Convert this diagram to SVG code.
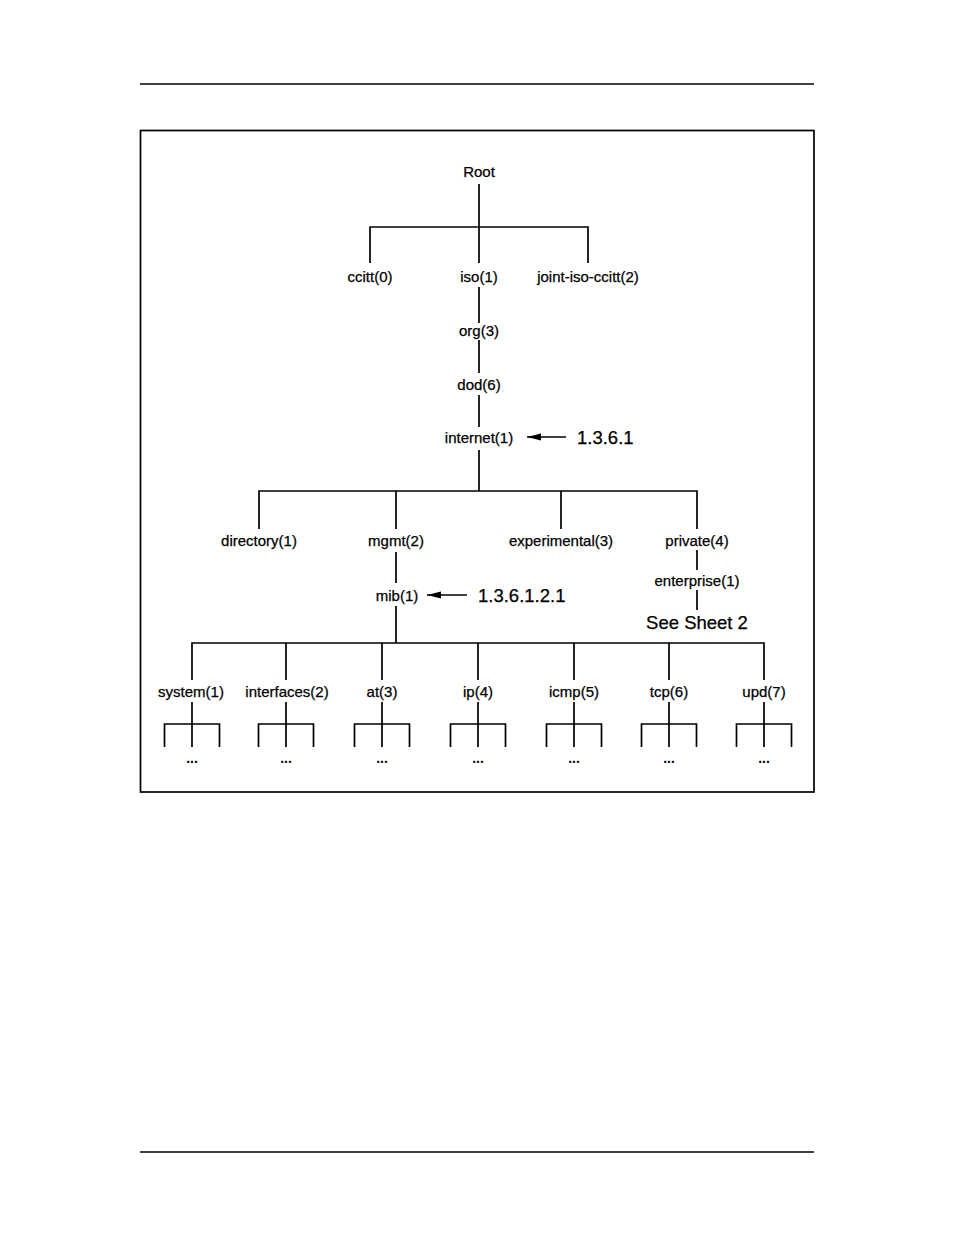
<svg xmlns="http://www.w3.org/2000/svg" width="954" height="1235" viewBox="0 0 954 1235">
<style>
.ln{stroke:#000;stroke-width:1.7;fill:none}
.lb{font-family:"Liberation Sans",Arial,sans-serif;font-size:15px;fill:#000;stroke:#000;stroke-width:0.25;text-anchor:middle}
.big{font-family:"Liberation Sans",Arial,sans-serif;font-size:18.5px;fill:#000;stroke:#000;stroke-width:0.25}
.dots{font-family:"Liberation Sans",Arial,sans-serif;font-size:14px;font-weight:bold;fill:#000;text-anchor:middle}
</style>
<defs>
<marker id="ah" markerWidth="16" markerHeight="10" refX="14" refY="5" orient="auto" markerUnits="userSpaceOnUse">
<path d="M0,1.5 L14,5 L0,8.5 Z" fill="#000"/>
</marker>
</defs>
<rect width="954" height="1235" fill="#fff"/>
<g id="page">
<line class="ln" x1="140" y1="84" x2="814" y2="84"/>
<line class="ln" x1="140" y1="1152" x2="814" y2="1152"/>
<rect class="ln" x="140.5" y="130.5" width="673.5" height="661.5"/>
</g>
<g id="connectors">
<path class="ln" d="M479,184 V263 M370,263 V227 H588 V263"/>
<path class="ln" d="M479,287 V323 M479,340 V373 M479,395 V427 M479,450 V491"/>
<path class="ln" d="M259,529 V491 H697 V529 M396,491 V529 M561,491 V529"/>
<path class="ln" d="M396,552 V583 M396,606 V643 M697,550 V570 M697,590 V610"/>
<path class="ln" d="M192,680 V643 H764 V680 M286,643 V680 M382,643 V680 M478,643 V680 M574,643 V680 M669,643 V680"/>
<path class="ln" d="M192,702 V747 M164.5,747 V724 H219.5 V747"/>
<path class="ln" d="M286,702 V747 M258.5,747 V724 H313.5 V747"/>
<path class="ln" d="M382,702 V747 M354.5,747 V724 H409.5 V747"/>
<path class="ln" d="M478,702 V747 M450.5,747 V724 H505.5 V747"/>
<path class="ln" d="M574,702 V747 M546.5,747 V724 H601.5 V747"/>
<path class="ln" d="M669,702 V747 M641.5,747 V724 H696.5 V747"/>
<path class="ln" d="M764,702 V747 M736.5,747 V724 H791.5 V747"/>
<line class="ln" x1="566" y1="437" x2="527" y2="437" marker-end="url(#ah)"/>
<line class="ln" x1="467" y1="595" x2="427" y2="595" marker-end="url(#ah)"/>
</g>
<g id="n-root"><text class="lb" x="479" y="177">Root</text></g>
<g id="n-ccitt"><text class="lb" x="370" y="282">ccitt(0)</text></g>
<g id="n-iso"><text class="lb" x="479" y="282">iso(1)</text></g>
<g id="n-joint"><text class="lb" x="588" y="282">joint-iso-ccitt(2)</text></g>
<g id="n-org"><text class="lb" x="479" y="336">org(3)</text></g>
<g id="n-dod"><text class="lb" x="479" y="390">dod(6)</text></g>
<g id="n-internet"><text class="lb" x="479" y="443">internet(1)</text></g>
<g id="n-oid1"><text class="big" x="577" y="444">1.3.6.1</text></g>
<g id="n-directory"><text class="lb" x="259" y="546">directory(1)</text></g>
<g id="n-mgmt"><text class="lb" x="396" y="546">mgmt(2)</text></g>
<g id="n-experimental"><text class="lb" x="561" y="546">experimental(3)</text></g>
<g id="n-private"><text class="lb" x="697" y="546">private(4)</text></g>
<g id="n-mib"><text class="lb" x="397" y="601">mib(1)</text></g>
<g id="n-oid2"><text class="big" x="478" y="602">1.3.6.1.2.1</text></g>
<g id="n-enterprise"><text class="lb" x="697" y="586">enterprise(1)</text></g>
<g id="n-sheet"><text class="big" x="697" y="629" text-anchor="middle">See Sheet 2</text></g>
<g id="n-system"><text class="lb" x="191" y="697">system(1)</text><text class="dots" x="192" y="763">...</text></g>
<g id="n-interfaces"><text class="lb" x="287" y="697">interfaces(2)</text><text class="dots" x="286" y="763">...</text></g>
<g id="n-at"><text class="lb" x="382" y="697">at(3)</text><text class="dots" x="382" y="763">...</text></g>
<g id="n-ip"><text class="lb" x="478" y="697">ip(4)</text><text class="dots" x="478" y="763">...</text></g>
<g id="n-icmp"><text class="lb" x="574" y="697">icmp(5)</text><text class="dots" x="574" y="763">...</text></g>
<g id="n-tcp"><text class="lb" x="669" y="697">tcp(6)</text><text class="dots" x="669" y="763">...</text></g>
<g id="n-upd"><text class="lb" x="764" y="697">upd(7)</text><text class="dots" x="764" y="763">...</text></g>
</svg>
